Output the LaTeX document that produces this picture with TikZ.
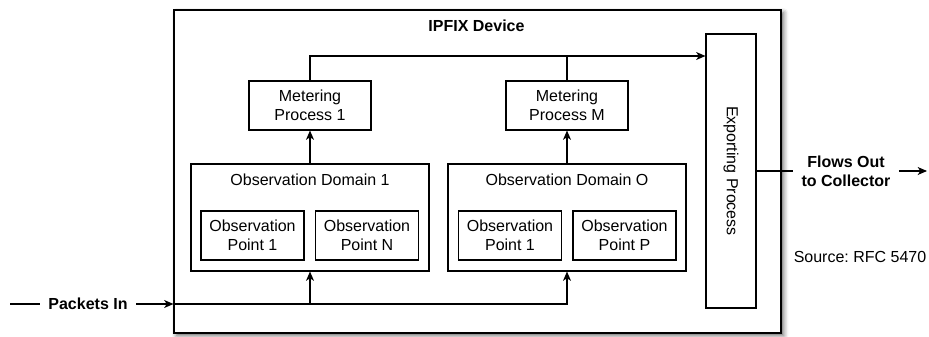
\documentclass[tikz,border=0pt]{standalone}
\usepackage{fontspec}
\setmainfont{Liberation Sans}
\frenchspacing
\usetikzlibrary{arrows.meta,shadows.blur}

\begin{document}
\begin{tikzpicture}[x=0.75pt,y=-0.75pt,line width=0.8pt,
    box/.style={draw,black,fill=white,align=center,inner sep=0pt,font=\fontsize{12}{14.25}\selectfont},
    lbl/.style={align=center,inner sep=6pt,font=\bfseries\fontsize{12}{14.25}\selectfont},
    arr/.style={-{Stealth[length=7pt,width=6pt,inset=2pt]}}]
    \useasboundingbox (0,0) rectangle (929,336);
    \node [box,minimum width=455.25pt,minimum height=242.25pt,
        blur shadow={shadow xshift=2pt,shadow yshift=-2pt,shadow blur radius=3.5pt,shadow opacity=60}] (dev) at (477.5,171.5) {};
    \node [lbl,inner sep=0pt] (devt) at (476.5,26) {IPFIX Device};
    \node [box,minimum width=91.5pt,minimum height=36.75pt] (mp1) at (310,105.5) {Metering\\Process 1};
    \node [box,minimum width=91.5pt,minimum height=36.75pt] (mpm) at (567,105.5) {Metering\\Process M};
    \node [box,minimum width=37.5pt,minimum height=205.5pt] (exp) at (731,171) {\rotatebox{-90}{Exporting Process}};
    \node [box,minimum width=178.5pt,minimum height=80.25pt] (od1) at (310,217.5) {};
    \node [box,draw=none,fill=none] (od1t) at (310,180) {Observation Domain 1};
    \node [box,minimum width=178.5pt,minimum height=80.25pt] (odo) at (567,217.5) {};
    \node [box,draw=none,fill=none] (odot) at (567,180) {Observation Domain O};
    \node [box,minimum width=77.25pt,minimum height=36.75pt] (op11) at (252.5,235.5) {Observation\\Point 1};
    \node [box,minimum width=77.25pt,minimum height=36.75pt] (op1n) at (367,235.5) {Observation\\Point N};
    \node [box,minimum width=77.25pt,minimum height=36.75pt] (opo1) at (510,235.5) {Observation\\Point 1};
    \node [box,minimum width=77.25pt,minimum height=36.75pt] (opop) at (624.5,235.5) {Observation\\Point P};
    \node [lbl] (pkt) at (88,304) {Packets In};
    \node [lbl] (out) at (846,171) {Flows Out\\to Collector};
    \node [font=\fontsize{12}{14.25}\selectfont,inner sep=0pt] (src) at (860,257) {Source: RFC 5470};
    \coordinate (top) at (0,56);
    \coordinate (pin) at (10,304);
    \coordinate (fout) at (927,171);
    \draw [arr] (mp1.north) |- (top -| exp.west);
    \draw (mpm.north) -- (mpm.north |- top);
    \draw [arr] (od1.north) -- (mp1.south);
    \draw [arr] (odo.north) -- (mpm.south);
    \draw (pin) -- (pkt);
    \draw [arr] (pkt) -- (pkt -| dev.west);
    \draw [arr] (pkt -| dev.west) -| (odo.south);
    \draw [arr] (od1.south |- pkt) -- (od1.south);
    \draw (exp.east |- out) -- (out);
    \draw [arr] (out) -- (fout);
\end{tikzpicture}
\end{document}
